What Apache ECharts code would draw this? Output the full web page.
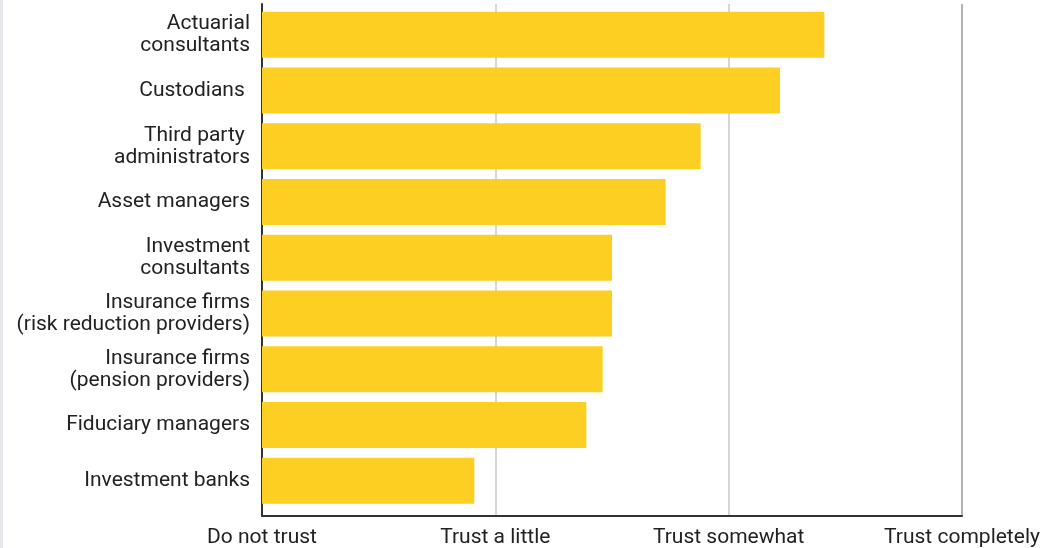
<!DOCTYPE html>
<html>
<head>
<meta charset="utf-8">
<style>
  html, body { margin: 0; padding: 0; background: #ffffff; }
  #chart { width: 1056px; height: 548px; }
</style>
<script src="https://cdn.jsdelivr.net/npm/echarts@6/dist/echarts.min.js"></script>
</head>
<body>
<div id="chart"></div>
<script>
// Providers, listed top to bottom
const providers = [
  'Actuarial\nconsultants',
  'Custodians ',
  'Third party \nadministrators',
  'Asset managers',
  'Investment\nconsultants',
  'Insurance firms\n(risk reduction providers)',
  'Insurance firms\n(pension providers)',
  'Fiduciary managers',
  'Investment banks'
];

// Average trust score (1 = Do not trust ... 4 = Trust completely)
const trustScores = [3.41, 3.22, 2.88, 2.73, 2.50, 2.50, 2.46, 2.39, 1.91];

// Scale labels for scores 1..4
const scaleLabels = ['Do not trust', 'Trust a little', 'Trust somewhat', 'Trust completely'];

const textColor = '#222222';
const barColor = '#FDCF22';
const fontFamily = 'Roboto, "Liberation Sans", sans-serif';

const chart = echarts.init(document.getElementById('chart'), null, { renderer: 'canvas' });

chart.setOption({
  animation: false,
  backgroundColor: '#ffffff',
  graphic: [{
    type: 'rect',
    left: 0, top: 0,
    shape: { width: 3, height: 548 },
    style: { fill: '#e6e7ea' },
    silent: true
  }],
  grid: [
    // frame: scale axis, grid lines and the left axis line
    { left: 262, right: 94, top: 4, bottom: 32 },
    // bars
    { left: 262, right: 94, top: 7, height: 501.6 }
  ],
  xAxis: [
    {
      gridIndex: 0,
      type: 'value',
      min: 1, max: 4, interval: 1,
      axisLine: { show: true, lineStyle: { color: '#333333', width: 2 } },
      axisTick: { show: false },
      axisLabel: {
        color: textColor, fontSize: 21, fontFamily: fontFamily, margin: 11,
        formatter: function (v) { return scaleLabels[Math.round(v) - 1]; }
      },
      splitLine: {
        show: true,
        lineStyle: { color: ['#333333', '#c9c9c9', '#c9c9c9', '#9a9a9a'], width: 1.5 }
      }
    },
    {
      gridIndex: 1,
      type: 'value',
      min: 1, max: 4, interval: 1,
      show: false
    }
  ],
  yAxis: [
    {
      gridIndex: 0,
      type: 'value',
      min: 0, max: 1,
      axisLine: { show: true, lineStyle: { color: '#333333', width: 2 } },
      axisTick: { show: false },
      axisLabel: { show: false },
      splitLine: { show: false }
    },
    {
      gridIndex: 1,
      type: 'category',
      data: providers,
      inverse: true,
      axisLine: { show: false },
      axisTick: { show: false },
      splitLine: { show: false },
      axisLabel: {
        color: textColor, fontSize: 21, lineHeight: 22, fontFamily: fontFamily,
        margin: 12, align: 'right', padding: [6, 0, 0, 0]
      }
    }
  ],
  series: [{
    type: 'bar',
    xAxisIndex: 1,
    yAxisIndex: 1,
    data: trustScores,
    barWidth: 46,
    itemStyle: { color: barColor },
    silent: true
  }]
});
</script>
</body>
</html>
